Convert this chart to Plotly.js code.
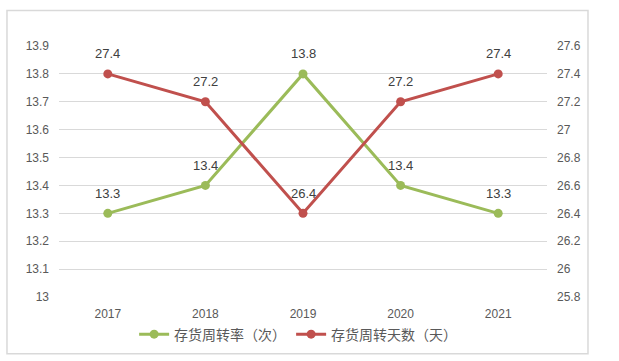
<!DOCTYPE html>
<html><head><meta charset="utf-8">
<script src="https://cdn.plot.ly/plotly-3.0.1.min.js"></script>
<style>html,body{margin:0;padding:0;background:#fff}#c{width:619px;height:361px}</style>
</head><body><div id="c"></div>
<script>
const years = ['2017','2018','2019','2020','2021'];
const turnoverRate = [13.3, 13.4, 13.8, 13.4, 13.3];
const turnoverDays = [27.4, 27.2, 26.4, 27.2, 27.4];
const seriesNames = ['存货周转率（次）', '存货周转天数（天）'];
const leftTicks = [13, 13.1, 13.2, 13.3, 13.4, 13.5, 13.6, 13.7, 13.8, 13.9];
const rightTicks = [25.8, 26, 26.2, 26.4, 26.6, 26.8, 27, 27.2, 27.4, 27.6];

const fontFam = 'Liberation Sans, Noto Sans CJK SC, sans-serif';
const traces = [
  {x: years, y: turnoverRate, name: seriesNames[0], type: 'scatter', mode: 'lines+markers',
   line: {color: '#9BBB59', width: 3}, marker: {color: '#9BBB59', size: 9}, yaxis: 'y', cliponaxis: false},
  {x: years, y: turnoverDays, name: seriesNames[1], type: 'scatter', mode: 'lines+markers',
   line: {color: '#C0504D', width: 3}, marker: {color: '#C0504D', size: 9}, yaxis: 'y2', cliponaxis: false}
];
function labels(vals, yref) {
  return vals.map((v, i) => ({x: i, y: v, xref: 'x', yref: yref, text: String(v), showarrow: false,
    yanchor: 'middle', xanchor: 'center', yshift: 20, font: {size: 13, color: '#404040', family: fontFam}}));
}
const layout = {
  width: 619, height: 361,
  margin: {l: 59, r: 72, t: 46, b: 63},
  paper_bgcolor: '#fff', plot_bgcolor: '#fff',
  font: {family: fontFam, color: '#595959', size: 12},
  showlegend: true,
  legend: {orientation: 'h', x: 0.49, xanchor: 'center', y: -0.145, yanchor: 'middle',
           font: {size: 14, color: '#595959', family: 'Noto Sans CJK SC, sans-serif'}, itemwidth: 30, tracegroupgap: 0},
  xaxis: {type: 'category', range: [-0.5, 4.5], showgrid: false, zeroline: false, showline: false,
          ticks: '', ticklabelstandoff: 8, tickfont: {size: 12, color: '#595959'}},
  yaxis: {range: [13, 13.9], tickvals: leftTicks, ticktext: leftTicks.map(String), showgrid: true,
          gridcolor: '#d9d9d9', gridwidth: 1, zeroline: false, showline: false, ticks: '',
          ticklabelstandoff: 9, tickfont: {size: 12, color: '#595959'}},
  yaxis2: {range: [25.8, 27.6], tickvals: rightTicks, ticktext: rightTicks.map(String), overlaying: 'y', side: 'right',
           showgrid: false, zeroline: false, showline: false, ticks: '', ticklabelstandoff: 9,
           tickfont: {size: 12, color: '#595959'}},
  annotations: labels(turnoverRate, 'y').concat(labels(turnoverDays, 'y2')),
  shapes: [{type: 'rect', xref: 'paper', yref: 'paper', x0: -0.1066, x1: 1.084, y0: -0.226, y1: 1.1415,
            line: {color: '#d9d9d9', width: 1.5}, fillcolor: 'rgba(0,0,0,0)', layer: 'below'}]
};
Plotly.newPlot('c', traces, layout, {displayModeBar: false, staticPlot: true});
</script></body></html>
